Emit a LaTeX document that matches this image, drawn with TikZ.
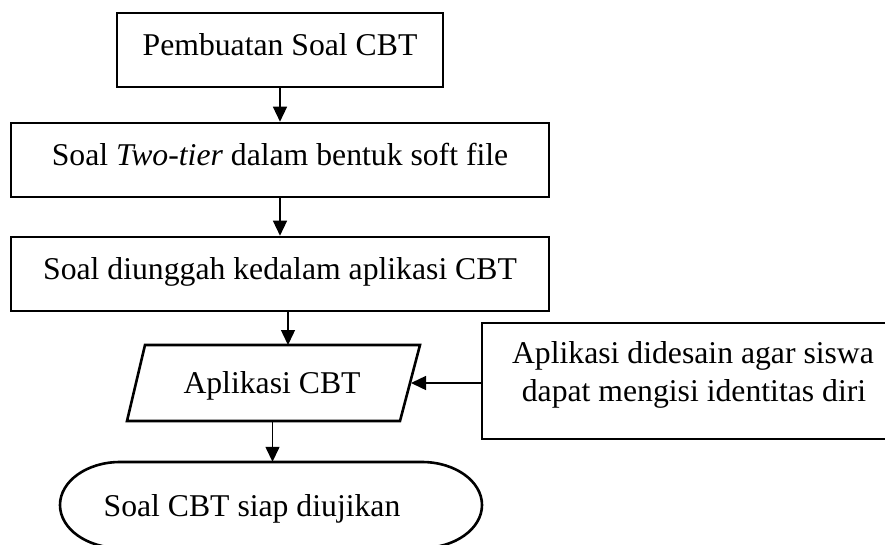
\documentclass[tikz,border=0pt]{standalone}
\usepackage{fontspec}
\setmainfont{Liberation Serif}
\usetikzlibrary{arrows.meta}
\begin{document}
\begin{tikzpicture}[x=1pt,y=-1pt,
  outline/.style={line width=2.6pt, line join=miter},
  procbox/.style={draw, outline, inner sep=0pt, minimum height=74pt},
  frame/.style={inner sep=0pt},
  lbl/.style={inner sep=0pt, anchor=base, font=\fontsize{31.7}{38}\selectfont},
  flow/.style={line width=1.4pt, -{Triangle[length=15pt,width=14pt]}}
]
\useasboundingbox (0,0) rectangle (885,544);

% process boxes
\node[procbox, minimum width=326pt] (make) at (280,50) {};
\node[procbox, minimum width=538pt] (soft) at (280,160) {};
\node[procbox, minimum width=538pt] (upload) at (280,274) {};
\node[draw, outline, inner sep=0pt, minimum width=410pt, minimum height=116pt] (note) at (687,381) {};

% input/output parallelogram
\node[frame, minimum width=275pt, minimum height=76pt] (app) at (273.5,383) {};
\coordinate (appTL) at (145,345);
\coordinate (appTR) at (420,345);
\coordinate (appBR) at (400,421);
\coordinate (appBL) at (127,421);
\coordinate (appIn) at (288,345);
\coordinate (appSide) at (411,383);
\coordinate (appOut) at (272.5,421);
\draw[outline] (appTL) -- (appTR) -- (appBR) -- (appBL) -- cycle;

% terminator
\node[frame, minimum width=422pt, minimum height=86pt] (done) at (271,505) {};
\draw[outline] (120,462) -- (422,462)
  arc[start angle=-90, end angle=90, x radius=60, y radius=43]
  -- (120,548)
  arc[start angle=90, end angle=270, x radius=60, y radius=43] -- cycle;

% labels
\node[lbl] (tmake) at (280,55) {Pembuatan Soal CBT};
\node[lbl] (tsoft) at (280,165) {Soal \textit{Two-tier} dalam bentuk soft file};
\node[lbl] (tupload) at (280,279) {Soal diunggah kedalam aplikasi CBT};
\node[lbl] (tapp) at (272,393) {Aplikasi CBT};
\node[lbl] (tnote1) at (693,363) {Aplikasi didesain agar siswa};
\node[lbl] (tnote2) at (694,401) {dapat mengisi identitas diri};
\node[lbl] (tdone) at (252,516) {Soal CBT siap diujikan};

% connectors
\draw[flow] (make.south) -- (soft.north);
\draw[flow] (soft.south) -- (upload.north);
\draw[flow] (upload.south -| appIn) -- (appIn);
\draw[flow] ([yshift=-2pt]note.west) -- (appSide);
\draw[flow] (appOut) -- (done.north -| appOut);
\end{tikzpicture}
\end{document}
